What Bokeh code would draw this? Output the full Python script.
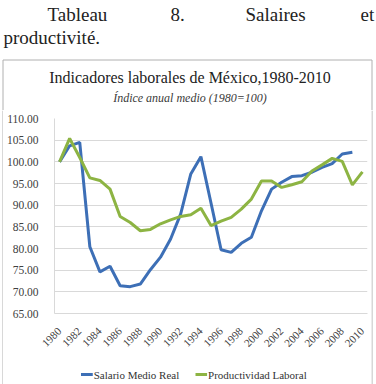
import math
from bokeh.plotting import figure
from bokeh.layouts import column, row
from bokeh.models import ColumnDataSource, FixedTicker, Range1d, PrintfTickFormatter
from bokeh.core.properties import value
from bokeh.embed import file_html
from bokeh.resources import INLINE

# ---- data ----
years = list(range(1980, 2011))
salario_medio_real = [100.0, 103.7, 104.5, 80.4, 74.6, 75.9, 71.4, 71.2, 71.8, 75.1,
                      78.0, 82.2, 88.0, 97.2, 101.2, 90.5, 79.7, 79.1, 81.2, 82.6,
                      88.7, 93.7, 95.3, 96.6, 96.8, 97.6, 98.7, 99.6, 101.8, 102.2,
                      float("nan")]
productividad_laboral = [100.0, 105.4, 101.0, 96.3, 95.7, 93.7, 87.4, 86.0, 84.1, 84.4,
                         85.7, 86.6, 87.4, 87.8, 89.3, 85.3, 86.3, 87.2, 89.1, 91.4,
                         95.6, 95.6, 94.1, 94.7, 95.4, 97.9, 99.3, 100.8, 100.1, 94.7,
                         97.7]
x_tick_years = list(range(1980, 2011, 2))
y_ticks = [65, 70, 75, 80, 85, 90, 95, 100, 105, 110]

header_words = ["Tableau", "8.", "Salaires", "et"]
header_line2 = "productivité."
title_text = "Indicadores laborales de México,1980-2010"
subtitle_text = "Índice anual medio (1980=100)"
series_names = ["Salario Medio Real", "Productividad Laboral"]
series_colors = ["#3d6fb6", "#8db443"]

SERIF = "Liberation Serif"
BOX = "#b0b0b0"


def blank(width, height, left=0, right=0, **kw):
    f = figure(width=width, height=height, output_backend="svg", toolbar_location=None,
               x_range=Range1d(left, width - right), y_range=Range1d(height, 0),
               x_axis_type=None, y_axis_type=None, min_border=0,
               min_border_left=left, min_border_right=right, min_border_top=0,
               min_border_bottom=0, **kw)
    f.outline_line_color = None
    f.background_fill_color = "white"
    f.border_fill_color = "white"
    f.xgrid.visible = False
    f.ygrid.visible = False
    return f


# ---- header: paragraph text, chart box top, titles ----
H = blank(376, 110)
H.text(x=[47, 170, 245, 360], y=[14, 14, 14, 14], text=header_words,
       text_font=value(SERIF), text_font_size="19px", text_color="#222222",
       text_baseline="alphabetic")
H.text(x=[3], y=[37], text=[header_line2], text_font=value(SERIF),
       text_font_size="19px", text_color="#222222", text_baseline="alphabetic")
H.segment(x0=[2.5, 2.5, 371.5], y0=[59.5, 59.5, 59.5],
          x1=[371.5, 2.5, 371.5], y1=[59.5, 110, 110], line_color=BOX, line_width=1)
H.text(x=[189.5], y=[77], text=[title_text], text_font=value(SERIF),
       text_font_size="16px", text_color="#222222", text_align="center",
       text_baseline="middle")
H.text(x=[189.5], y=[97], text=[subtitle_text], text_font=value(SERIF),
       text_font_size="12px", text_font_style="italic", text_color="#3a3a3a",
       text_align="center", text_baseline="middle")

# ---- chart ----
src = ColumnDataSource(dict(x=years, s=salario_medio_real, p=productividad_laboral))

C = figure(width=368, height=252, output_backend="svg", toolbar_location=None,
           x_range=Range1d(1979.5, 2010.5), y_range=Range1d(65, 110),
           min_border_left=45, min_border_right=4, min_border_top=8,
           min_border_bottom=49)
C.outline_line_color = None
C.background_fill_color = "white"
C.border_fill_color = "white"

C.line("x", "s", source=src, line_color=series_colors[0], line_width=3)
C.line("x", "p", source=src, line_color=series_colors[1], line_width=3)

C.xaxis.ticker = FixedTicker(ticks=x_tick_years)
C.xaxis.major_label_orientation = math.pi / 4
C.xaxis.major_label_text_font = SERIF
C.xaxis.major_label_text_font_size = "11px"
C.xaxis.major_label_text_color = "#404040"
C.xaxis.major_tick_line_color = None
C.xaxis.minor_tick_line_color = None
C.xaxis.axis_line_color = "#d9d9d9"
C.xaxis.major_label_standoff = 10

C.yaxis.ticker = FixedTicker(ticks=y_ticks)
C.yaxis.formatter = PrintfTickFormatter(format="%.2f")
C.yaxis.major_label_text_font = SERIF
C.yaxis.major_label_text_font_size = "11.5px"
C.yaxis.major_label_text_color = "#404040"
C.yaxis.major_tick_line_color = None
C.yaxis.minor_tick_line_color = None
C.yaxis.axis_line_color = "#d9d9d9"
C.yaxis.major_label_standoff = 10

C.xgrid.grid_line_color = None
C.ygrid.grid_line_color = "#d9d9d9"

# ---- legend strip (frame aligned with the chart frame; x = local pixel) ----
F = blank(368, 22, left=45, right=4)
F.segment(x0=[72, 188.7], y0=[12, 12], x1=[84, 200.5], y1=[12, 12],
          line_color=series_colors, line_width=3)
F.text(x=[85, 201.5], y=[12, 12], text=series_names, text_font=value(SERIF),
       text_font_size="11px", text_color="#333333", text_baseline="middle")

# ---- chart box sides ----
L = blank(3, 274)
L.segment(x0=[2.5], y0=[0], x1=[2.5], y1=[274], line_color=BOX, line_width=1)
R = blank(5, 274)
R.segment(x0=[0.5], y0=[0], x1=[0.5], y1=[274], line_color=BOX, line_width=1)

layout = column(H, row(L, column(C, F, spacing=0), R, spacing=0), spacing=0)
open("out.html", "w").write(file_html(layout, INLINE))
